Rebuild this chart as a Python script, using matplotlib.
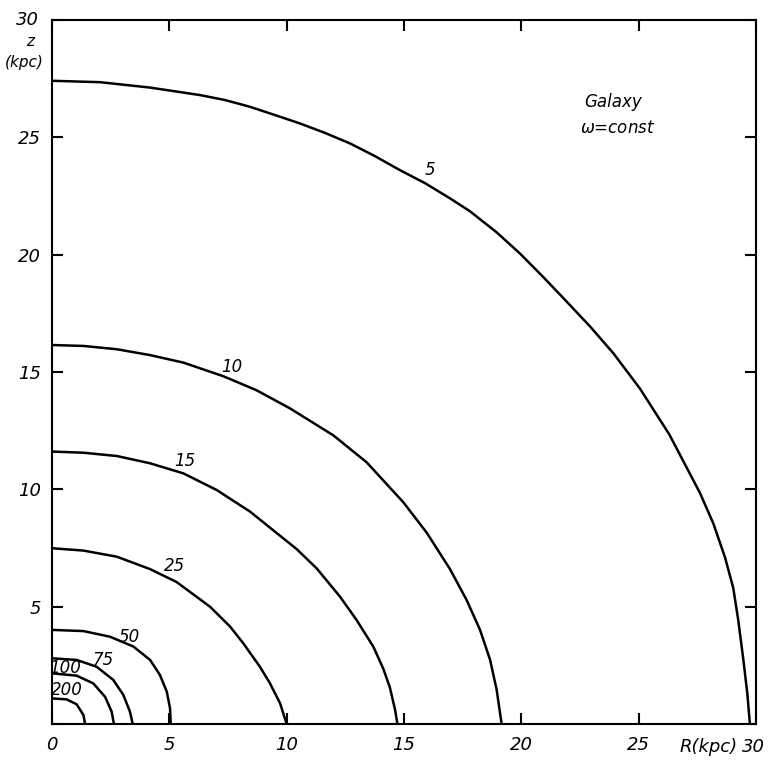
import matplotlib
matplotlib.use("Agg")
import matplotlib.pyplot as plt

# Contour curves (R, z) in kpc
r5 = [0.0, 2.05, 4.18, 6.31, 7.37, 8.44, 9.50, 10.57, 11.63, 12.70, 13.76, 14.83, 15.89, 16.96,
      17.81, 18.95, 19.94, 20.93, 21.79, 22.92, 23.92, 25.05, 26.30, 27.61, 28.18, 28.68, 29.03,
      29.24, 29.46, 29.63, 29.74]
z5 = [27.41, 27.35, 27.12, 26.80, 26.59, 26.30, 25.95, 25.59, 25.19, 24.74, 24.20, 23.60, 23.05, 22.40,
      21.85, 20.95, 20.05, 19.05, 18.15, 16.95, 15.80, 14.30, 12.35, 9.85, 8.55, 7.10, 5.80,
      4.45, 2.75, 1.30, 0.0]

r10 = [0.0, 1.34, 2.76, 4.18, 5.60, 7.30, 8.72, 10.14, 11.99, 13.41, 14.97, 15.97, 16.96, 17.67, 18.24, 18.67, 18.95, 19.16]
z10 = [16.15, 16.11, 15.97, 15.72, 15.40, 14.82, 14.22, 13.45, 12.30, 11.15, 9.45, 8.15, 6.60, 5.28, 4.01, 2.73, 1.45, 0.0]

r15 = [0.0, 1.34, 2.76, 4.18, 5.60, 7.02, 8.44, 10.43, 11.28, 12.27, 12.98, 13.69, 14.12, 14.40, 14.62, 14.72]
z15 = [11.61, 11.56, 11.42, 11.11, 10.68, 9.97, 9.05, 7.45, 6.63, 5.43, 4.43, 3.30, 2.35, 1.55, 0.60, 0.0]

r25 = [0.0, 1.34, 2.76, 4.18, 5.31, 6.73, 7.59, 8.15, 8.86, 9.29, 9.72, 10.0]
z25 = [7.49, 7.39, 7.13, 6.60, 6.05, 5.00, 4.15, 3.44, 2.44, 1.73, 0.88, 0.0]

r50 = [0.0, 1.34, 2.47, 3.47, 4.18, 4.60, 4.89, 5.03, 5.06]
z50 = [4.01, 3.96, 3.72, 3.30, 2.73, 2.09, 1.38, 0.67, 0.0]

r75 = [0.0, 1.05, 1.90, 2.61, 3.04, 3.32, 3.44]
z75 = [2.80, 2.73, 2.44, 1.88, 1.24, 0.53, 0.0]

r100 = [0.0, 1.05, 1.76, 2.26, 2.54, 2.64]
z100 = [2.16, 2.06, 1.73, 1.16, 0.53, 0.0]

r200 = [0.0, 0.62, 1.05, 1.34, 1.41]
z200 = [1.09, 1.05, 0.84, 0.38, 0.0]

curve_labels = ["5", "10", "15", "25", "50", "75", "100", "200"]
label_r = [16.1, 7.66, 5.67, 5.24, 3.28, 2.19, 0.55, 0.62]
label_z = [23.6, 15.2, 11.22, 6.73, 3.72, 2.73, 2.37, 1.45]

xticks = [0, 5, 10, 15, 20, 25, 30]
xticklabels = ["0", "5", "10", "15", "20", "25", ""]
yticks = [0, 5, 10, 15, 20, 25, 30]
yticklabels = ["", "5", "10", "15", "20", "25", ""]

fig = plt.figure(figsize=(7.71, 7.64), dpi=100)
ax = fig.add_axes([52 / 771, 40 / 764, 704 / 771, 704 / 764])

curves = [(r5, z5), (r10, z10), (r15, z15), (r25, z25), (r50, z50), (r75, z75), (r100, z100), (r200, z200)]
for r, z in curves:
    ax.plot(r, z, color="black", lw=1.8, solid_joinstyle="round", solid_capstyle="round")

for t, x, y in zip(curve_labels, label_r, label_z):
    ax.text(x, y, t, fontsize=12, style="italic", ha="center", va="center")

ax.set_xlim(0, 30)
ax.set_ylim(0, 30)
ax.set_xticks(xticks)
ax.set_xticklabels(xticklabels, fontsize=13, style="italic")
ax.set_yticks(yticks)
ax.set_yticklabels(yticklabels, fontsize=13, style="italic")
ax.tick_params(direction="in", length=8, width=1.5, top=True, right=True)
ax.tick_params(axis="x", pad=9)
ax.tick_params(axis="y", pad=8)
for s in ax.spines.values():
    s.set_linewidth(1.5)

# axis annotations
ax.text(28.0, -1.0, "R(kpc)", fontsize=13, style="italic", ha="center", va="center", clip_on=False)
ax.text(29.9, -1.0, "30", fontsize=13, style="italic", ha="center", va="center", clip_on=False)
ax.text(-1.05, 30.0, "30", fontsize=13, style="italic", ha="center", va="center", clip_on=False)
ax.text(-0.95, 29.1, "z", fontsize=11, style="italic", ha="center", va="center", clip_on=False)
ax.text(-1.2, 28.2, "(kpc)", fontsize=11, style="italic", ha="center", va="center", clip_on=False)

ax.text(22.7, 26.5, "Galaxy", fontsize=12, style="italic", ha="left", va="center")
ax.text(22.5, 25.4, r"$\omega$=const", fontsize=12, style="italic", ha="left", va="center")

fig.savefig("out.png", dpi=100)
